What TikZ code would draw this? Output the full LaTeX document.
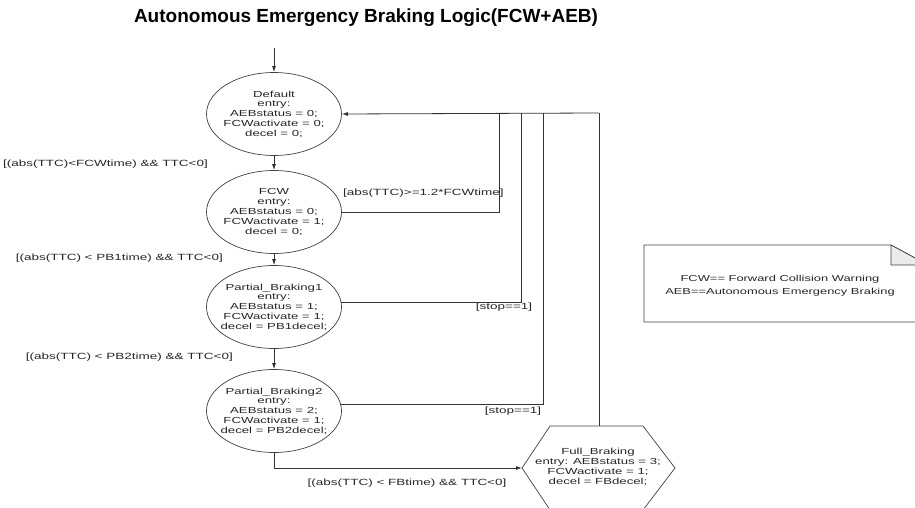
\documentclass[tikz,border=0pt]{standalone}
\usepackage{fontspec}
\setmainfont{Liberation Sans}
\newfontfamily\statefont[FakeStretch=1.5]{Liberation Sans}
\usepackage{tikz}
\usetikzlibrary{calc}
\usetikzlibrary{arrows.meta}
\usetikzlibrary{shapes.geometric}

\begin{document}
\begin{tikzpicture}[x=1pt,y=-1pt,
		line/.style={draw=black!80,line width=0.8pt},
		arr/.style={line,-{Latex[length=6pt,width=4pt]}},
		stateshape/.style={draw=black!75,line width=0.7pt,ellipse,minimum width=135pt,minimum height=83pt,inner sep=0pt},
		statetext/.style={align=center,inner sep=0pt,text=black!85,font=\statefont\fontsize{8.8}{9.8}\selectfont},
		guard/.style={inner sep=0pt,text=black!85,font=\statefont\fontsize{9}{11}\selectfont}]
		\useasboundingbox (0,0) rectangle (915,508);
		\clip (0,0) rectangle (915,508);
		\def\cx{274}
		% title
		\node[font=\bfseries\fontsize{19}{22}\selectfont] (title) at (366,18) {Autonomous Emergency Braking Logic(FCW+AEB)};
		% states
		\node[stateshape] (def) at (\cx,114) {};
		\node[stateshape] (fcw) at (\cx,212) {};
		\node[stateshape] (pb1) at (\cx,307) {};
		\node[stateshape] (pb2) at (\cx,411) {};
		\node[statetext] at (def) {Default\\entry:\\AEBstatus = 0;\\FCWactivate = 0;\\decel = 0;};
		\node[statetext] at (fcw) {FCW\\entry:\\AEBstatus = 0;\\FCWactivate = 1;\\decel = 0;};
		\node[statetext] at (pb1) {Partial\_Braking1\\entry:\\AEBstatus = 1;\\FCWactivate = 1;\\decel = PB1decel;};
		\node[statetext] at (pb2) {Partial\_Braking2\\entry:\\AEBstatus = 2;\\FCWactivate = 1;\\decel = PB2decel;};
		% full braking hexagon
		\draw[draw=black!75,line width=0.7pt] (522,468) -- (550,426) -- (643,426) -- (675,468) -- (643,510) -- (550,510) -- cycle;
		\coordinate (fbw) at (522,468);
		\coordinate (fbn) at (599,426);
		\node[statetext] (fb) at (598,467) {Full\_Braking\\entry: AEBstatus = 3;\\FCWactivate = 1;\\decel = FBdecel;};
		% note
		\draw[draw=black!75,line width=0.7pt] (644,245) -- (891,245) -- (928,265) -- (928,322) -- (644,322) -- cycle;
		\draw[draw=black!75,line width=0.7pt,fill=black!8] (891,245) -- (891,265) -- (928,265) -- cycle;
		\node[statetext,font=\statefont\fontsize{8.6}{13}\selectfont] (note) at (780,286) {FCW== Forward Collision Warning\\AEB==Autonomous Emergency Braking};
		% transitions
		\coordinate (init) at (\cx,48);
		\draw[arr] (init) -- (def.north);
		\draw[arr] (def.south) -- (fcw.north);
		\draw[arr] (fcw.south) -- (pb1.north);
		\draw[arr] (pb1.south) -- (pb2.north);
		\draw[arr] (pb2.south) |- (fbw);
		\coordinate (r1) at (499,113);
		\coordinate (r2) at (521,113);
		\coordinate (r3) at (543,113);
		\coordinate (r4) at (599,113);
		\draw[line] (fcw.east) -| (r1);
		\draw[line] (pb1.4) -| (r2);
		\draw[line] (pb2.6) -| (r3);
		\draw[line] (fbn) -- (r4);
		\draw[arr] (r4) -- (def.east);
		% guards
		\node[guard,anchor=east] (g1) at (208,164) {[(abs(TTC)<FCWtime) \&\& TTC<0]};
		\node[guard,anchor=east] (g2) at (223,258) {[(abs(TTC) < PB1time) \&\& TTC<0]};
		\node[guard,anchor=east] (g3) at (233,357) {[(abs(TTC) < PB2time) \&\& TTC<0]};
		\node[guard] (g4) at (407,483) {[(abs(TTC) < FBtime) \&\& TTC<0]};
		\node[guard,anchor=west] (g5) at (343,193) {[abs(TTC)>=1.2*FCWtime]};
		\node[guard] (g6) at (504,307) {[stop==1]};
		\node[guard] (g7) at (513,411) {[stop==1]};
\end{tikzpicture}
\end{document}
